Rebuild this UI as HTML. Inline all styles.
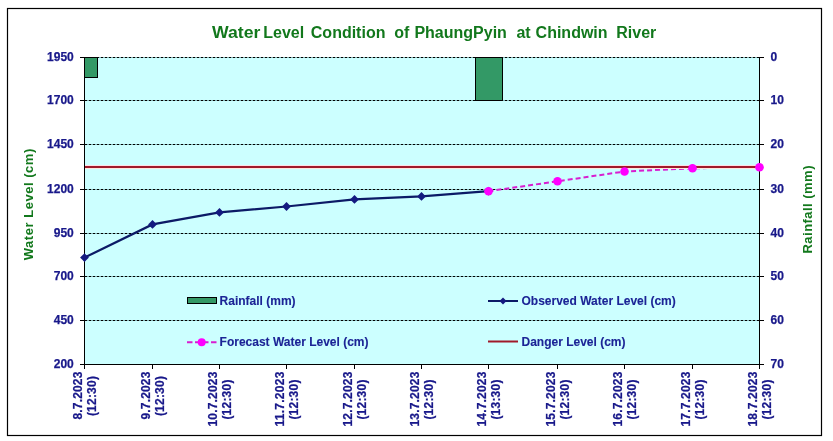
<!DOCTYPE html><html><head><meta charset="utf-8"><style>html,body{margin:0;padding:0;background:#fff;width:833px;height:441px;overflow:hidden}svg{display:block}text{font-family:"Liberation Sans",Arial,sans-serif}.l{font-size:12px;font-weight:bold;fill:#18188a;stroke:#18188a;stroke-width:0.25}.g{font-size:12px;font-weight:bold;fill:#1c2496;stroke:#1c2496;stroke-width:0.1}</style></head><body>
<svg width="833" height="441" viewBox="0 0 833 441">
<rect x="0" y="0" width="833" height="441" fill="#fff"/>
<rect x="7.5" y="8.5" width="814" height="427" fill="none" stroke="#000" stroke-width="1.2"/>
<text y="37.5" font-size="16" font-weight="bold" fill="#12781c"><tspan x="212.10" textLength="48.30" lengthAdjust="spacingAndGlyphs">Water</tspan> <tspan x="263.30">Level</tspan> <tspan x="310.80">Condition</tspan> <tspan x="394.20">of</tspan> <tspan x="414.40">PhaungPyin</tspan> <tspan x="516.40">at</tspan> <tspan x="535.60">Chindwin</tspan> <tspan x="616.30">River</tspan></text>
<rect x="85" y="58" width="674" height="306" fill="#ccffff"/>
<g stroke="#7fb0b0" stroke-width="1" shape-rendering="crispEdges"><line x1="85" y1="57.5" x2="759" y2="57.5"/><line x1="85" y1="100.5" x2="759" y2="100.5"/><line x1="85" y1="144.5" x2="759" y2="144.5"/><line x1="85" y1="189.5" x2="759" y2="189.5"/><line x1="85" y1="233.5" x2="759" y2="233.5"/><line x1="85" y1="276.5" x2="759" y2="276.5"/><line x1="85" y1="320.5" x2="759" y2="320.5"/></g>
<g stroke="#000" stroke-width="1" stroke-dasharray="2,2" shape-rendering="crispEdges"><line x1="85" y1="57.5" x2="759" y2="57.5"/><line x1="85" y1="100.5" x2="759" y2="100.5"/><line x1="85" y1="144.5" x2="759" y2="144.5"/><line x1="85" y1="189.5" x2="759" y2="189.5"/><line x1="85" y1="233.5" x2="759" y2="233.5"/><line x1="85" y1="276.5" x2="759" y2="276.5"/><line x1="85" y1="320.5" x2="759" y2="320.5"/></g>
<g fill="#339966" stroke="#000" stroke-width="1" shape-rendering="crispEdges">
<rect x="84.5" y="57.5" width="13" height="20"/>
<rect x="475.5" y="57.5" width="27" height="43"/>
</g>
<g stroke="#000" stroke-width="1" shape-rendering="crispEdges"><line x1="84.5" y1="57" x2="84.5" y2="369"/><line x1="759.5" y1="57" x2="759.5" y2="369"/><line x1="80" y1="364.5" x2="764" y2="364.5"/><line x1="80" y1="57.5" x2="85" y2="57.5"/><line x1="759" y1="57.5" x2="764" y2="57.5"/><line x1="80" y1="100.5" x2="85" y2="100.5"/><line x1="759" y1="100.5" x2="764" y2="100.5"/><line x1="80" y1="144.5" x2="85" y2="144.5"/><line x1="759" y1="144.5" x2="764" y2="144.5"/><line x1="80" y1="189.5" x2="85" y2="189.5"/><line x1="759" y1="189.5" x2="764" y2="189.5"/><line x1="80" y1="233.5" x2="85" y2="233.5"/><line x1="759" y1="233.5" x2="764" y2="233.5"/><line x1="80" y1="276.5" x2="85" y2="276.5"/><line x1="759" y1="276.5" x2="764" y2="276.5"/><line x1="80" y1="320.5" x2="85" y2="320.5"/><line x1="759" y1="320.5" x2="764" y2="320.5"/><line x1="80" y1="364.5" x2="85" y2="364.5"/><line x1="759" y1="364.5" x2="764" y2="364.5"/><line x1="84.5" y1="364" x2="84.5" y2="369"/><line x1="152.5" y1="364" x2="152.5" y2="369"/><line x1="219.5" y1="364" x2="219.5" y2="369"/><line x1="286.5" y1="364" x2="286.5" y2="369"/><line x1="354.5" y1="364" x2="354.5" y2="369"/><line x1="421.5" y1="364" x2="421.5" y2="369"/><line x1="488.5" y1="364" x2="488.5" y2="369"/><line x1="557.5" y1="364" x2="557.5" y2="369"/><line x1="624.5" y1="364" x2="624.5" y2="369"/><line x1="692.5" y1="364" x2="692.5" y2="369"/><line x1="759.5" y1="364" x2="759.5" y2="369"/></g>
<polyline points="488.5,191.2 557.5,181.3 624.5,171.5 692.5,168.3 759.5,167.2" fill="none" stroke="#d81ed0" stroke-width="2" stroke-dasharray="5,3"/>
<polyline points="84.5,257.6 152.5,224.4 219.5,212.4 286.5,206.5 354.5,199.4 421.5,196.4 488.5,191.2" fill="none" stroke="#0c1a66" stroke-width="2.2"/>
<line x1="85" y1="165.5" x2="759" y2="165.5" stroke="#ffdfe4" stroke-width="1"/>
<line x1="85" y1="168.5" x2="759" y2="168.5" stroke="#ffe6dc" stroke-width="1"/>
<line x1="85" y1="167" x2="759" y2="167" stroke="#a01a2a" stroke-width="2"/>
<path d="M84.5 253.2L88.9 257.6L84.5 262.0L80.1 257.6Z" fill="#141a80"/>
<path d="M152.5 220.0L156.9 224.4L152.5 228.8L148.1 224.4Z" fill="#141a80"/>
<path d="M219.5 208.0L223.9 212.4L219.5 216.8L215.1 212.4Z" fill="#141a80"/>
<path d="M286.5 202.1L290.9 206.5L286.5 210.9L282.1 206.5Z" fill="#141a80"/>
<path d="M354.5 195.0L358.9 199.4L354.5 203.8L350.1 199.4Z" fill="#141a80"/>
<path d="M421.5 192.0L425.9 196.4L421.5 200.8L417.1 196.4Z" fill="#141a80"/>
<path d="M488.5 186.8L492.9 191.2L488.5 195.6L484.1 191.2Z" fill="#141a80"/>
<circle cx="488.5" cy="191.2" r="4.3" fill="#ff00ff"/>
<circle cx="557.5" cy="181.3" r="4.3" fill="#ff00ff"/>
<circle cx="624.5" cy="171.5" r="4.3" fill="#ff00ff"/>
<circle cx="692.5" cy="168.3" r="4.3" fill="#ff00ff"/>
<circle cx="759.5" cy="167.2" r="4.3" fill="#ff00ff"/>
<text x="73.8" y="60.6" class="l" text-anchor="end">1950</text>
<text x="73.8" y="103.6" class="l" text-anchor="end">1700</text>
<text x="73.8" y="147.6" class="l" text-anchor="end">1450</text>
<text x="73.8" y="192.6" class="l" text-anchor="end">1200</text>
<text x="73.8" y="236.6" class="l" text-anchor="end">950</text>
<text x="73.8" y="279.6" class="l" text-anchor="end">700</text>
<text x="73.8" y="323.6" class="l" text-anchor="end">450</text>
<text x="73.8" y="367.6" class="l" text-anchor="end">200</text>
<text x="770.6" y="60.6" class="l">0</text>
<text x="770.6" y="103.6" class="l">10</text>
<text x="770.6" y="147.6" class="l">20</text>
<text x="770.6" y="192.6" class="l">30</text>
<text x="770.6" y="236.6" class="l">40</text>
<text x="770.6" y="279.6" class="l">50</text>
<text x="770.6" y="323.6" class="l">60</text>
<text x="770.6" y="367.6" class="l">70</text>
<text transform="translate(82.3,371.6) rotate(-90)" class="l" text-anchor="end" textLength="48" lengthAdjust="spacing">8.7.2023</text>
<text transform="translate(95.6,396.1) rotate(-90)" class="l" text-anchor="middle" textLength="40" lengthAdjust="spacing">(12:30)</text>
<text transform="translate(150.3,371.6) rotate(-90)" class="l" text-anchor="end" textLength="48" lengthAdjust="spacing">9.7.2023</text>
<text transform="translate(163.6,396.1) rotate(-90)" class="l" text-anchor="middle" textLength="40" lengthAdjust="spacing">(12:30)</text>
<text transform="translate(217.3,371.6) rotate(-90)" class="l" text-anchor="end" textLength="55" lengthAdjust="spacing">10.7.2023</text>
<text transform="translate(230.6,399.6) rotate(-90)" class="l" text-anchor="middle" textLength="40" lengthAdjust="spacing">(12:30)</text>
<text transform="translate(284.3,371.6) rotate(-90)" class="l" text-anchor="end" textLength="55" lengthAdjust="spacing">11.7.2023</text>
<text transform="translate(297.6,399.6) rotate(-90)" class="l" text-anchor="middle" textLength="40" lengthAdjust="spacing">(12:30)</text>
<text transform="translate(352.3,371.6) rotate(-90)" class="l" text-anchor="end" textLength="55" lengthAdjust="spacing">12.7.2023</text>
<text transform="translate(365.6,399.6) rotate(-90)" class="l" text-anchor="middle" textLength="40" lengthAdjust="spacing">(12:30)</text>
<text transform="translate(419.3,371.6) rotate(-90)" class="l" text-anchor="end" textLength="55" lengthAdjust="spacing">13.7.2023</text>
<text transform="translate(432.6,399.6) rotate(-90)" class="l" text-anchor="middle" textLength="40" lengthAdjust="spacing">(12:30)</text>
<text transform="translate(486.3,371.6) rotate(-90)" class="l" text-anchor="end" textLength="55" lengthAdjust="spacing">14.7.2023</text>
<text transform="translate(499.6,399.6) rotate(-90)" class="l" text-anchor="middle" textLength="40" lengthAdjust="spacing">(13:30)</text>
<text transform="translate(555.3,371.6) rotate(-90)" class="l" text-anchor="end" textLength="55" lengthAdjust="spacing">15.7.2023</text>
<text transform="translate(568.6,399.6) rotate(-90)" class="l" text-anchor="middle" textLength="40" lengthAdjust="spacing">(12:30)</text>
<text transform="translate(622.3,371.6) rotate(-90)" class="l" text-anchor="end" textLength="55" lengthAdjust="spacing">16.7.2023</text>
<text transform="translate(635.6,399.6) rotate(-90)" class="l" text-anchor="middle" textLength="40" lengthAdjust="spacing">(12:30)</text>
<text transform="translate(690.3,371.6) rotate(-90)" class="l" text-anchor="end" textLength="55" lengthAdjust="spacing">17.7.2023</text>
<text transform="translate(703.6,399.6) rotate(-90)" class="l" text-anchor="middle" textLength="40" lengthAdjust="spacing">(12:30)</text>
<text transform="translate(757.3,371.6) rotate(-90)" class="l" text-anchor="end" textLength="55" lengthAdjust="spacing">18.7.2023</text>
<text transform="translate(770.6,399.6) rotate(-90)" class="l" text-anchor="middle" textLength="40" lengthAdjust="spacing">(12:30)</text>
<text transform="translate(33.1,204.5) rotate(-90)" font-size="13" font-weight="bold" fill="#12781c" text-anchor="middle" textLength="111.5" lengthAdjust="spacing">Water Level (cm)</text>
<text transform="translate(811.6,209.5) rotate(-90)" font-size="13" font-weight="bold" fill="#12781c" text-anchor="middle" textLength="88" lengthAdjust="spacing">Rainfall (mm)</text>
<rect x="187.5" y="297.5" width="29" height="6" fill="#339966" stroke="#000" stroke-width="1" shape-rendering="crispEdges"/>
<text x="219.6" y="305" class="g">Rainfall (mm)</text>
<line x1="488" y1="301" x2="518" y2="301" stroke="#0c1a66" stroke-width="2"/>
<path d="M503 297.5L506.5 301L503 304.5L499.5 301Z" fill="#141a80"/>
<text x="521.5" y="305" class="g">Observed Water Level (cm)</text>
<line x1="187" y1="342.2" x2="216.5" y2="342.2" stroke="#d81ed0" stroke-width="2" stroke-dasharray="5.5,2.5"/>
<circle cx="201.7" cy="342.2" r="4" fill="#ff00ff"/>
<text x="219.6" y="346" class="g">Forecast Water Level (cm)</text>
<line x1="488" y1="341.5" x2="518" y2="341.5" stroke="#a01a2a" stroke-width="2"/>
<text x="521.5" y="346" class="g">Danger Level (cm)</text>
</svg></body></html>
